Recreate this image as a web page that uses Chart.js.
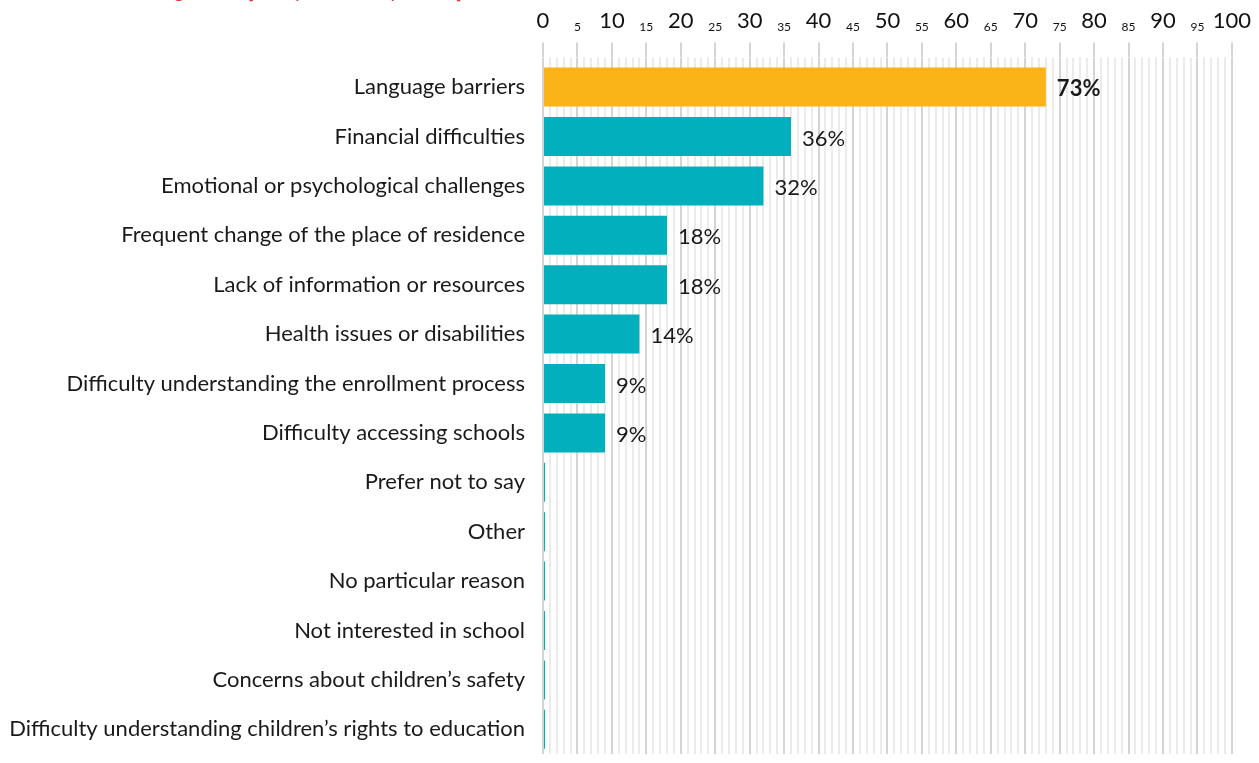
<!DOCTYPE html>
<html>
<head>
<meta charset="utf-8">
<script src="https://cdn.jsdelivr.net/npm/chart.js@4"></script>
<style>
  html, body { margin: 0; padding: 0; background: #fff; overflow: hidden; }
  #wrap { position: relative; width: 1259px; height: 763px; }
  #barChart { display: block; }
  #note {
    position: absolute; right: 797px; top: -21px; white-space: nowrap;
    font-family: Lato, sans-serif; font-size: 19px; color: #e3352b;
  }
</style>
</head>
<body>
<div id="wrap">
  <div id="note">Reasons for children not attending school [multiple choice question]</div>
  <canvas id="barChart" width="1259" height="763"></canvas>
</div>
<script>
const reasons = [
    'Language barriers',
    'Financial difficulties',
    'Emotional or psychological challenges',
    'Frequent change of the place of residence',
    'Lack of information or resources',
    'Health issues or disabilities',
    'Difficulty understanding the enrollment process',
    'Difficulty accessing schools',
    'Prefer not to say',
    'Other',
    'No particular reason',
    'Not interested in school',
    'Concerns about children\u2019s safety',
    'Difficulty understanding children\u2019s rights to education'
];
const shares = [73, 36, 32, 18, 18, 14, 9, 9, 0, 0, 0, 0, 0, 0];

const AXIS_MIN = 0;
const AXIS_MAX = 100;

const ORANGE = '#fbb418';
const TEAL = '#02afbd';
const TEXT = '#1a1a1a';
const FONT = 'Lato, "Open Sans", sans-serif';

// percent labels at the end of each bar
const valueLabels = {
    id: 'valueLabels',
    afterDatasetsDraw(chart) {
        const { ctx } = chart;
        const meta = chart.getDatasetMeta(0);
        ctx.save();
        ctx.fillStyle = TEXT;
        ctx.textBaseline = 'middle';
        ctx.textAlign = 'left';
        meta.data.forEach((bar, i) => {
            const v = shares[i];
            if (!v) return;
            ctx.font = (i === 0 ? 'bold ' : '') + '22px ' + FONT;
            ctx.fillText(v + '%', bar.x + 11, bar.y + 2);
        });
        ctx.restore();
    }
};

const ctx = document.getElementById('barChart').getContext('2d');
new Chart(ctx, {
    type: 'bar',
    data: {
        labels: reasons,
        datasets: [{
            data: shares,
            backgroundColor: (c) => c.dataIndex === 0 ? ORANGE : TEAL,
            borderWidth: 0,
            barPercentage: 0.79,
            categoryPercentage: 1,
            minBarLength: 2
        }]
    },
    options: {
        indexAxis: 'y',
        responsive: false,
        animation: false,
        layout: { padding: { top: 0, right: 10, bottom: 9, left: 0 } },
        plugins: {
            legend: { display: false },
            tooltip: { enabled: false }
        },
        scales: {
            y: {
                position: 'left',
                border: { display: false },
                grid: { display: false, tickLength: 18 },
                afterFit: (scale) => {
                    scale.width = 543;
                    scale.paddingTop = 0;
                    scale.paddingBottom = 0;
                },
                ticks: {
                    autoSkip: false,
                    padding: 0,
                    color: TEXT,
                    font: { family: FONT, size: 22 }
                }
            },
            // unit grid + short ticks
            x: {
                position: 'top',
                weight: 0,
                min: AXIS_MIN,
                max: AXIS_MAX,
                border: { display: false },
                grid: {
                    lineWidth: 2,
                    tickLength: 5,
                    color: (c) => c.tick && c.tick.value % 5 === 0 ? '#d4d4d4' : '#ebebeb'
                },
                ticks: { stepSize: 1, display: false, autoSkip: false }
            },
            // labelled ticks every 5
            x2: {
                type: 'linear',
                position: 'top',
                weight: 1,
                min: AXIS_MIN,
                max: AXIS_MAX,
                border: { display: false },
                grid: {
                    drawOnChartArea: false,
                    lineWidth: 2,
                    tickLength: 15,
                    tickColor: '#d4d4d4'
                },
                ticks: {
                    stepSize: 5,
                    autoSkip: false,
                    maxRotation: 0,
                    minRotation: 0,
                    padding: 8,
                    color: '#111',
                    font: (c) => (c.tick && c.tick.value % 10 === 0)
                        ? { family: FONT, size: 22 }
                        : { family: FONT, size: 12 }
                }
            }
        }
    },
    plugins: [valueLabels]
});
</script>
</body>
</html>
